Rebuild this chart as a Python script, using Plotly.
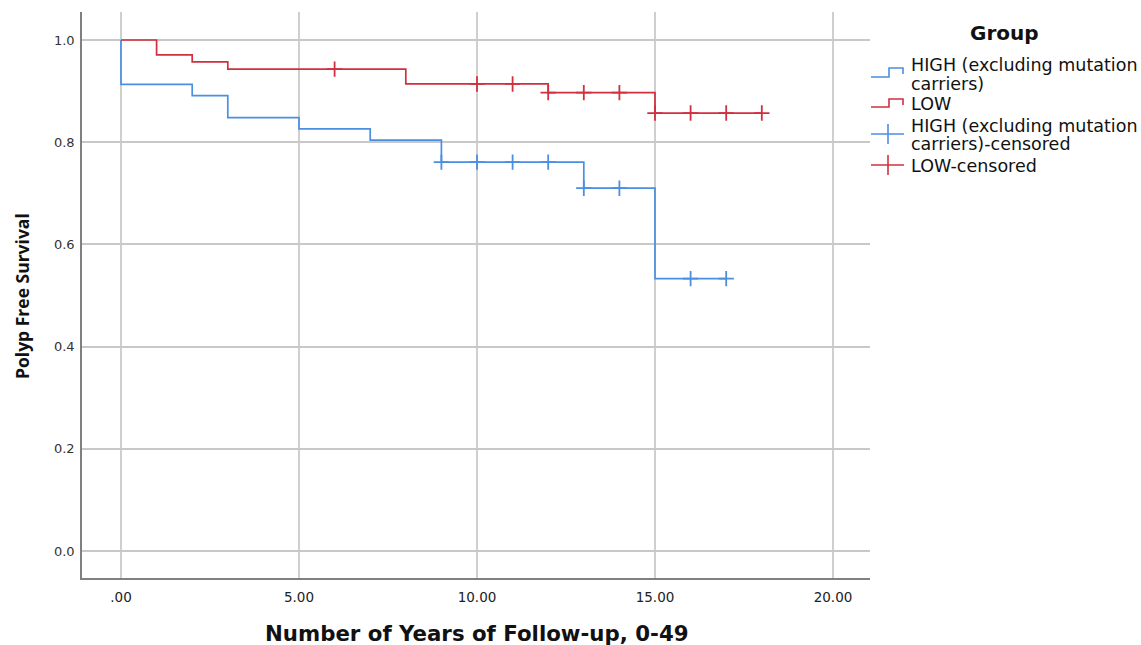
import plotly.graph_objects as go

# ---- data ----
high_time = [0, 0, 2, 3, 5, 7, 9, 13, 15, 17]
high_surv = [1.0, 0.913, 0.891, 0.848, 0.826, 0.804, 0.761, 0.710, 0.533, 0.533]
low_time = [0, 1, 2, 3, 8, 12, 15, 18]
low_surv = [1.0, 0.971, 0.957, 0.943, 0.914, 0.897, 0.857, 0.857]
high_cens_time = [9, 10, 11, 12, 13, 14, 16, 17]
high_cens_surv = [0.761, 0.761, 0.761, 0.761, 0.710, 0.710, 0.533, 0.533]
low_cens_time = [6, 10, 11, 12, 13, 14, 15, 16, 17, 18]
low_cens_surv = [0.943, 0.914, 0.914, 0.897, 0.897, 0.897, 0.857, 0.857, 0.857, 0.857]
x_ticks = [0, 5, 10, 15, 20]
x_tick_labels = [".00", "5.00", "10.00", "15.00", "20.00"]
y_ticks = [0.0, 0.2, 0.4, 0.6, 0.8, 1.0]
y_tick_labels = ["0.0", "0.2", "0.4", "0.6", "0.8", "1.0"]
legend_lines = [["HIGH (excluding mutation", "carriers)"], ["LOW"],
                ["HIGH (excluding mutation", "carriers)-censored"], ["LOW-censored"]]

BLUE = "#4a8fe0"
RED = "#d0303e"
W, H = 1141, 645
L, R, T, B = 82, 870, 12, 578

fig = go.Figure()
fig.add_trace(go.Scatter(x=high_time, y=high_surv, mode="lines", line=dict(color=BLUE, width=1.7, shape="hv"),
                         showlegend=False, hoverinfo="skip"))
fig.add_trace(go.Scatter(x=low_time, y=low_surv, mode="lines", line=dict(color=RED, width=1.7, shape="hv"),
                         showlegend=False, hoverinfo="skip"))
fig.add_trace(go.Scatter(x=high_cens_time, y=high_cens_surv, mode="markers",
                         marker=dict(symbol="cross-thin-open", size=11, color=BLUE, line=dict(color=BLUE, width=1.8)),
                         showlegend=False, hoverinfo="skip"))
fig.add_trace(go.Scatter(x=low_cens_time, y=low_cens_surv, mode="markers",
                         marker=dict(symbol="cross-thin-open", size=11, color=RED, line=dict(color=RED, width=1.8)),
                         showlegend=False, hoverinfo="skip"))


def px(x):
    return (x - L) / (R - L)


def py(y):
    return (B - y) / (B - T)


shapes = []
# step icons
for (ylow, yhigh, col) in [(77, 68, BLUE), (107, 99, RED)]:
    path = f"M {px(871)},{py(ylow)} L {px(889)},{py(ylow)} L {px(889)},{py(yhigh)} L {px(903)},{py(yhigh)} L {px(903)},{py(yhigh+6)}"
    shapes.append(dict(type="path", xref="paper", yref="paper", path=path,
                       line=dict(color=col, width=1.6)))
# cross icons
for (yc, col) in [(134, BLUE), (165, RED)]:
    shapes.append(dict(type="line", xref="paper", yref="paper", x0=px(871), x1=px(904), y0=py(yc), y1=py(yc),
                       line=dict(color=col, width=1.6)))
    shapes.append(dict(type="line", xref="paper", yref="paper", x0=px(888), x1=px(888), y0=py(yc - 10), y1=py(yc + 10),
                       line=dict(color=col, width=1.6)))

annotations = []
annotations.append(dict(text="<b>Group</b>", xref="paper", yref="paper", x=px(1004), y=py(33),
                        xanchor="center", yanchor="middle", showarrow=False,
                        font=dict(family="DejaVu Sans", size=20, color="#111")))
line_y = [[65, 84], [104], [126, 144], [166]]
for lines, ys in zip(legend_lines, line_y):
    for txt, yc in zip(lines, ys):
        annotations.append(dict(text=txt, xref="paper", yref="paper", x=px(909), y=py(yc),
                                xanchor="left", yanchor="middle", align="left", showarrow=False,
                                font=dict(family="DejaVu Sans", size=17.5, color="#111")))
annotations.append(dict(text="<b>Number of Years of Follow-up, 0-49</b>", xref="paper", yref="paper",
                        x=px(477), y=py(633), xanchor="center", yanchor="middle", showarrow=False,
                        font=dict(family="DejaVu Sans", size=21.3, color="#111")))
annotations.append(dict(text="<b>Polyp Free Survival</b>", xref="paper", yref="paper", textangle=-90,
                        x=px(22), y=py(296), xanchor="center", yanchor="middle", showarrow=False,
                        font=dict(family="Open Sans", size=17.5, color="#111")))

xmin = 0 - (121 - L) / 35.6
xmax = 20 + (R - 833) / 35.6
ymin = 0 - (B - 551) / 511
ymax = 1 + (40 - T) / 511

fig.update_layout(
    width=W, height=H,
    margin=dict(l=L, r=W - R, t=T, b=H - B),
    plot_bgcolor="white", paper_bgcolor="white",
    shapes=shapes, annotations=annotations,
    showlegend=False,
    xaxis=dict(range=[xmin, xmax], tickvals=x_ticks, ticktext=x_tick_labels,
               showgrid=True, gridcolor="#cfcfcf", gridwidth=2, zeroline=False,
               showline=True, linecolor="#808080", linewidth=1.5, ticks="", ticklabelstandoff=6,
               tickfont=dict(family="DejaVu Sans", size=13.5, color="#222")),
    yaxis=dict(range=[ymin, ymax], tickvals=y_ticks, ticktext=y_tick_labels,
               showgrid=True, gridcolor="#c8c8c8", gridwidth=1.5, zeroline=False,
               showline=True, linecolor="#808080", linewidth=1.5, ticks="", ticklabelstandoff=3,
               tickfont=dict(family="DejaVu Sans", size=13, color="#333")),
)

fig.write_html("out.html", config={"displayModeBar": False},
               post_script="document.body.style.margin='0';document.body.style.padding='0';")
